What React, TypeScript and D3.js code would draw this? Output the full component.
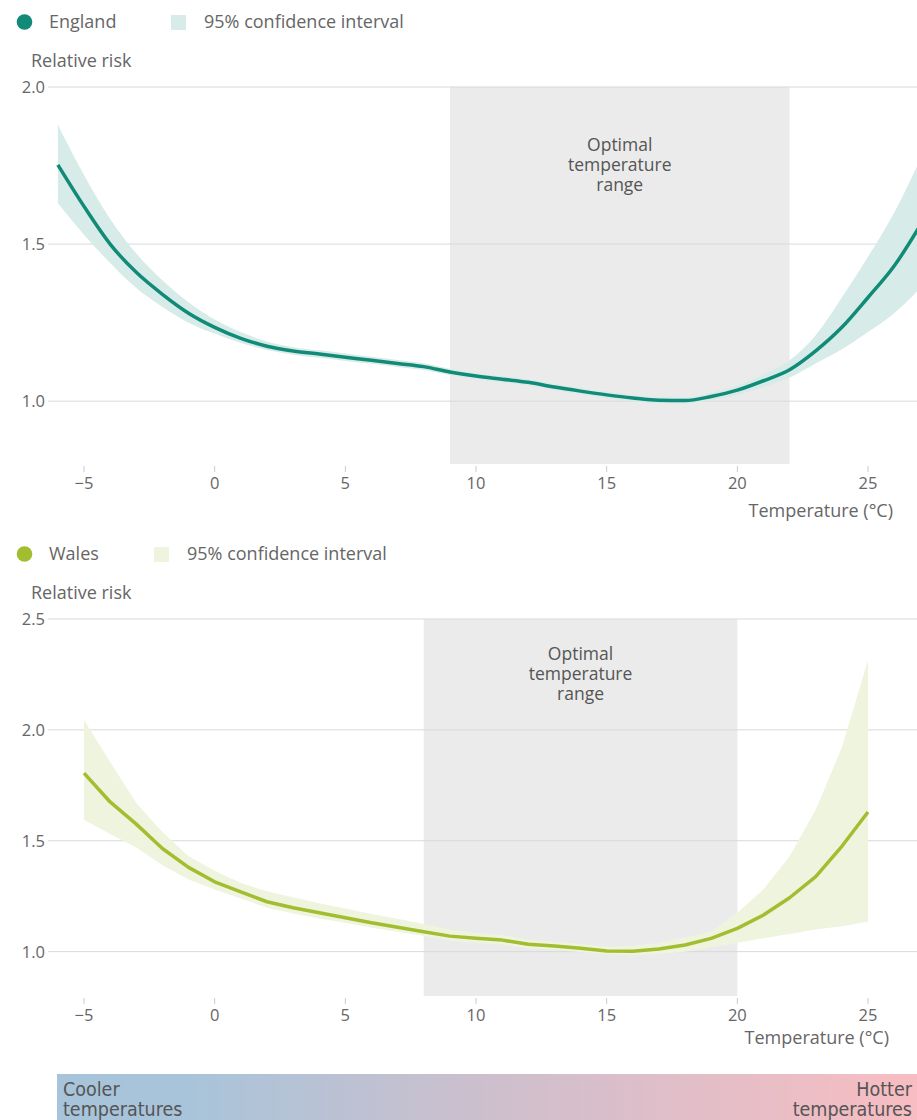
import * as d3 from "d3";

const width = 917;
const height = 1120;

// England: temperature (°C) vs relative risk
const englandTemps = d3.range(-6, 28);
const englandRR = [
  1.752, 1.62, 1.5, 1.41, 1.34, 1.28, 1.235, 1.2, 1.175, 1.16, 1.15, 1.14,
  1.13, 1.12, 1.11, 1.093, 1.08, 1.07, 1.06, 1.045, 1.032, 1.02, 1.01, 1.003,
  1.002, 1.015, 1.035, 1.065, 1.1, 1.16, 1.235, 1.33, 1.43, 1.56,
];
const englandLower = [
  1.63, 1.53, 1.44, 1.36, 1.3, 1.25, 1.215, 1.185, 1.163, 1.148, 1.138, 1.128,
  1.119, 1.109, 1.099, 1.083, 1.07, 1.06, 1.05, 1.035, 1.022, 1.01, 1.0, 0.993,
  0.992, 1.003, 1.02, 1.045, 1.075, 1.12, 1.165, 1.22, 1.28, 1.36,
];
const englandUpper = [
  1.88, 1.72, 1.58, 1.47, 1.385, 1.315, 1.26, 1.22, 1.19, 1.172, 1.162, 1.152,
  1.141, 1.131, 1.121, 1.103, 1.09, 1.08, 1.07, 1.055, 1.042, 1.03, 1.02,
  1.013, 1.012, 1.027, 1.05, 1.085, 1.13, 1.21, 1.33, 1.46, 1.6, 1.77,
];

// Wales
const walesTemps = d3.range(-5, 26);
const walesRR = [
  1.805, 1.675, 1.575, 1.465, 1.38, 1.315, 1.27, 1.225, 1.198, 1.175, 1.153,
  1.13, 1.11, 1.09, 1.07, 1.06, 1.052, 1.033, 1.025, 1.015, 1.003, 1.002,
  1.012, 1.03, 1.06, 1.105, 1.165, 1.243, 1.338, 1.475, 1.63,
];
const walesLower = [
  1.595, 1.53, 1.47, 1.39, 1.325, 1.28, 1.24, 1.198, 1.172, 1.15, 1.13, 1.108,
  1.09, 1.07, 1.05, 1.04, 1.032, 1.015, 1.008, 0.998, 0.988, 0.985, 0.99, 1.0,
  1.02, 1.04, 1.06, 1.08, 1.1, 1.115, 1.135,
];
const walesUpper = [
  2.045, 1.855, 1.67, 1.54, 1.43, 1.365, 1.31, 1.272, 1.245, 1.218, 1.195,
  1.17, 1.148, 1.125, 1.1, 1.085, 1.075, 1.055, 1.045, 1.035, 1.022, 1.025,
  1.04, 1.065, 1.09, 1.175, 1.28, 1.43, 1.64, 1.92, 2.315,
];

const xTicks = [-5, 0, 5, 10, 15, 20, 25];
const englandYTicks = [1.0, 1.5, 2.0];
const walesYTicks = [1.0, 1.5, 2.0, 2.5];
const englandOptimal = [9, 22];
const walesOptimal = [8, 20];

const font = "'Open Sans', 'Noto Sans', sans-serif";
const textColor = "#666";
const plotLeft = 48;
const plotRight = width;

const x = d3.scaleLinear().domain([-5, 25]).range([84, 868]);

type PanelProps = {
  id: string;
  top: number;
  label: string;
  color: string;
  bandColor: string;
  temps: number[];
  rr: number[];
  lower: number[];
  upper: number[];
  yDomain: [number, number];
  yRange: [number, number];
  yTicks: number[];
  optimal: number[];
  optimalLabelY: number;
  curve: d3.CurveFactory;
  bandSquareX: number;
  axisLabelX: number;
  axisLabelY: number;
};

const Panel = (p: PanelProps) => {
  const y = d3.scaleLinear().domain(p.yDomain).range(p.yRange);
  const [bottom, topY] = p.yRange;
  const pts = p.temps.map((t, i) => ({ t, v: p.rr[i], lo: p.lower[i], hi: p.upper[i] }));
  const line = d3
    .line<(typeof pts)[0]>()
    .x((d) => x(d.t))
    .y((d) => y(d.v))
    .curve(p.curve);
  const area = d3
    .area<(typeof pts)[0]>()
    .x((d) => x(d.t))
    .y0((d) => y(d.lo))
    .y1((d) => y(d.hi))
    .curve(p.curve);
  const optMid = x((p.optimal[0] + p.optimal[1]) / 2);

  return (
    <g>
      <clipPath id={`clip-${p.id}`}>
        <rect x={plotLeft} y={topY - 60} width={plotRight - plotLeft} height={bottom - topY + 60} />
      </clipPath>
      {/* legend */}
      <circle cx={24.5} cy={p.top + 22} r={7.8} fill={p.color} />
      <text x={49} y={p.top + 28} fontSize={18} fill={textColor}>
        {p.label}
      </text>
      <rect x={p.bandSquareX} y={p.top + 15} width={15} height={15} fill={p.bandColor} />
      <text x={p.bandSquareX + 33} y={p.top + 28} fontSize={18} fill={textColor}>
        95% confidence interval
      </text>
      <text x={31} y={topY - 20} fontSize={18} fill={textColor}>
        Relative risk
      </text>

      {/* optimal range */}
      <rect
        x={x(p.optimal[0])}
        y={topY}
        width={x(p.optimal[1]) - x(p.optimal[0])}
        height={bottom - topY}
        fill="#ebebeb"
      />
      {["Optimal", "temperature", "range"].map((s, i) => (
        <text
          key={s}
          x={optMid}
          y={p.optimalLabelY + i * 20}
          fontSize={17.5}
          fill="#555"
          textAnchor="middle"
        >
          {s}
        </text>
      ))}

      {/* gridlines */}
      {p.yTicks.map((t) => (
        <g key={t}>
          <line x1={plotLeft} x2={plotRight} y1={y(t)} y2={y(t)} stroke="#d9d9d9" strokeWidth={1} />
          <text x={45} y={y(t) + 6} fontSize={16.5} fill={textColor} textAnchor="end">
            {t.toFixed(1)}
          </text>
        </g>
      ))}

      {/* x axis */}
      {xTicks.map((t) => (
        <g key={t}>
          <line x1={x(t)} x2={x(t)} y1={bottom + 2} y2={bottom + 8} stroke="#ccc" />
          <text x={x(t)} y={bottom + 25} fontSize={16.5} fill={textColor} textAnchor="middle">
            {t < 0 ? `\u2212${Math.abs(t)}` : t}
          </text>
        </g>
      ))}
      <text x={p.axisLabelX} y={p.axisLabelY} fontSize={18} fill={textColor} textAnchor="end">
        Temperature (°C)
      </text>

      <g clipPath={`url(#clip-${p.id})`}>
        <path d={area(pts) ?? ""} fill={p.bandColor} />
        <path d={line(pts) ?? ""} fill="none" stroke={p.color} strokeWidth={3.5} strokeLinejoin="round" />
      </g>
    </g>
  );
};

const App = () => {
  return (
    <div style={{ position: "absolute", left: 0, top: 0 }}>
      <svg width={width} height={height} style={{ display: "block", fontFamily: font }}>
        <defs>
          <linearGradient id="temp-grad" x1="0" x2="1" y1="0" y2="0">
            <stop offset="0.15" stopColor="#a8c4da" />
            <stop offset="0.5" stopColor="#cdbfcd" />
            <stop offset="1" stopColor="#f8bdc2" />
          </linearGradient>
        </defs>
        <rect width={width} height={height} fill="#fff" />
        <Panel
          id="eng"
          top={0}
          label="England"
          color="#118a78"
          bandColor="#d7ece8"
          temps={englandTemps}
          rr={englandRR}
          lower={englandLower}
          upper={englandUpper}
          yDomain={[0.8, 2.0]}
          yRange={[464, 87]}
          yTicks={englandYTicks}
          optimal={englandOptimal}
          optimalLabelY={151}
          curve={d3.curveMonotoneX}
          bandSquareX={171}
          axisLabelX={893}
          axisLabelY={517}
        />
        <Panel
          id="wal"
          top={532}
          label="Wales"
          color="#a3bd31"
          bandColor="#eff4de"
          temps={walesTemps}
          rr={walesRR}
          lower={walesLower}
          upper={walesUpper}
          yDomain={[0.8, 2.5]}
          yRange={[996, 619]}
          yTicks={walesYTicks}
          optimal={walesOptimal}
          optimalLabelY={660}
          curve={d3.curveLinear}
          bandSquareX={154}
          axisLabelX={889}
          axisLabelY={1044}
        />
        <rect x={57} y={1074} width={width - 57} height={46} fill="url(#temp-grad)" />
        <g
          fontSize={19.5}
          fill="#555"
          style={{ fontFamily: "'DejaVu Sans Condensed', 'Liberation Sans Narrow', sans-serif", fontStretch: "condensed" }}
        >
          <text x={63} y={1096}>Cooler</text>
          <text x={63} y={1116}>temperatures</text>
          <text x={912} y={1096} textAnchor="end">Hotter</text>
          <text x={912} y={1116} textAnchor="end">temperatures</text>
        </g>
      </svg>
    </div>
  );
};

export default App;
